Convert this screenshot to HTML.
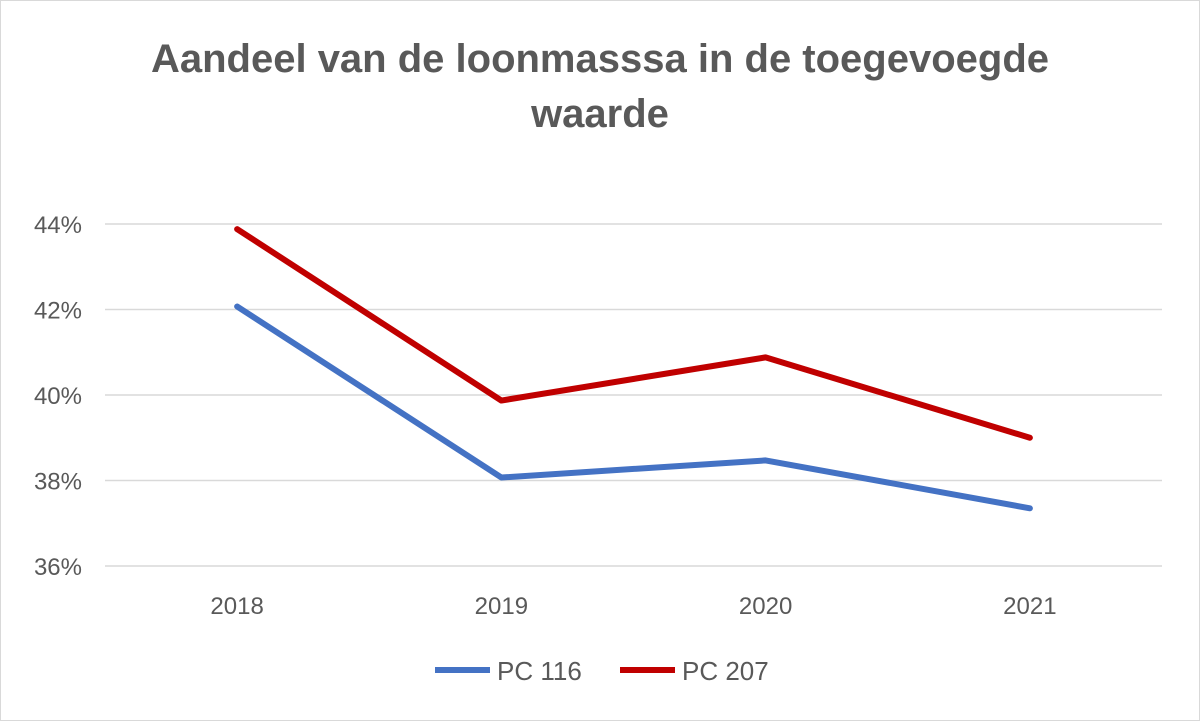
<!DOCTYPE html>
<html><head><meta charset="utf-8"><style>
body{margin:0;background:#fff;}
svg text{font-family:"Liberation Sans",sans-serif;}
</style></head><body>
<svg width="1200" height="721" viewBox="0 0 1200 721">
<rect x="0.5" y="0.5" width="1199" height="720" fill="#fff" stroke="#d9d9d9"/>
<text x="600" y="72" text-anchor="middle" font-size="40" font-weight="bold" fill="#595959">Aandeel van de loonmasssa in de toegevoegde</text>
<text x="600" y="127" text-anchor="middle" font-size="40" font-weight="bold" fill="#595959">waarde</text>
<g id="grid"></g><g id="xl"></g><g id="series"></g>
<g>
<line x1="435" y1="670" x2="490" y2="670" stroke="#4472c4" stroke-width="6"/>
<text x="497" y="680" font-size="26" fill="#595959">PC 116</text>
<line x1="620" y1="670" x2="675" y2="670" stroke="#c00000" stroke-width="6"/>
<text x="682" y="680" font-size="26" fill="#595959">PC 207</text>
</g>
</svg>
<script>
const categories=["2018","2019","2020","2021"];
const pc116=[42.07,38.07,38.47,37.35];
const pc207=[43.88,39.87,40.88,39.0];
const yTicks=[36,38,40,42,44];
const ns="http://www.w3.org/2000/svg";
const x0=105,x1=1162,yBase=566,pxPerUnit=42.75;
const xS=i=>x0+(x1-x0)/categories.length*(i+0.5);
const yS=v=>yBase-(v-36)*pxPerUnit;
function mk(t,a,p){const e=document.createElementNS(ns,t);for(const k in a)e.setAttribute(k,a[k]);p.appendChild(e);return e;}
const g=document.getElementById('grid');
yTicks.forEach(v=>{
 const l=mk('line',{x1:x0,x2:x1,y1:yS(v),y2:yS(v),stroke:'#d9d9d9','stroke-width':1.5},g);
 
 
 const t=mk('text',{x:82,y:yS(v)+9,'text-anchor':'end','font-size':24,fill:'#595959'},g);
 t.textContent=v+'%';
 
 
});
const xl=document.getElementById('xl');
categories.forEach((c,i)=>{
 const t=mk('text',{x:xS(i),y:614,'text-anchor':'middle','font-size':24,fill:'#595959'},xl);
 t.textContent=c;
 
 
});
const s=document.getElementById('series');
[[pc116,'#4472c4','line-pc116'],[pc207,'#c00000','line-pc207']].forEach(([d,col,n])=>{
 const p=mk('polyline',{points:d.map((v,i)=>xS(i)+','+yS(v)).join(' '),fill:'none',stroke:col,'stroke-width':6,'stroke-linejoin':'round','stroke-linecap':'round'},s);
 
 
});
</script>
</body></html>
